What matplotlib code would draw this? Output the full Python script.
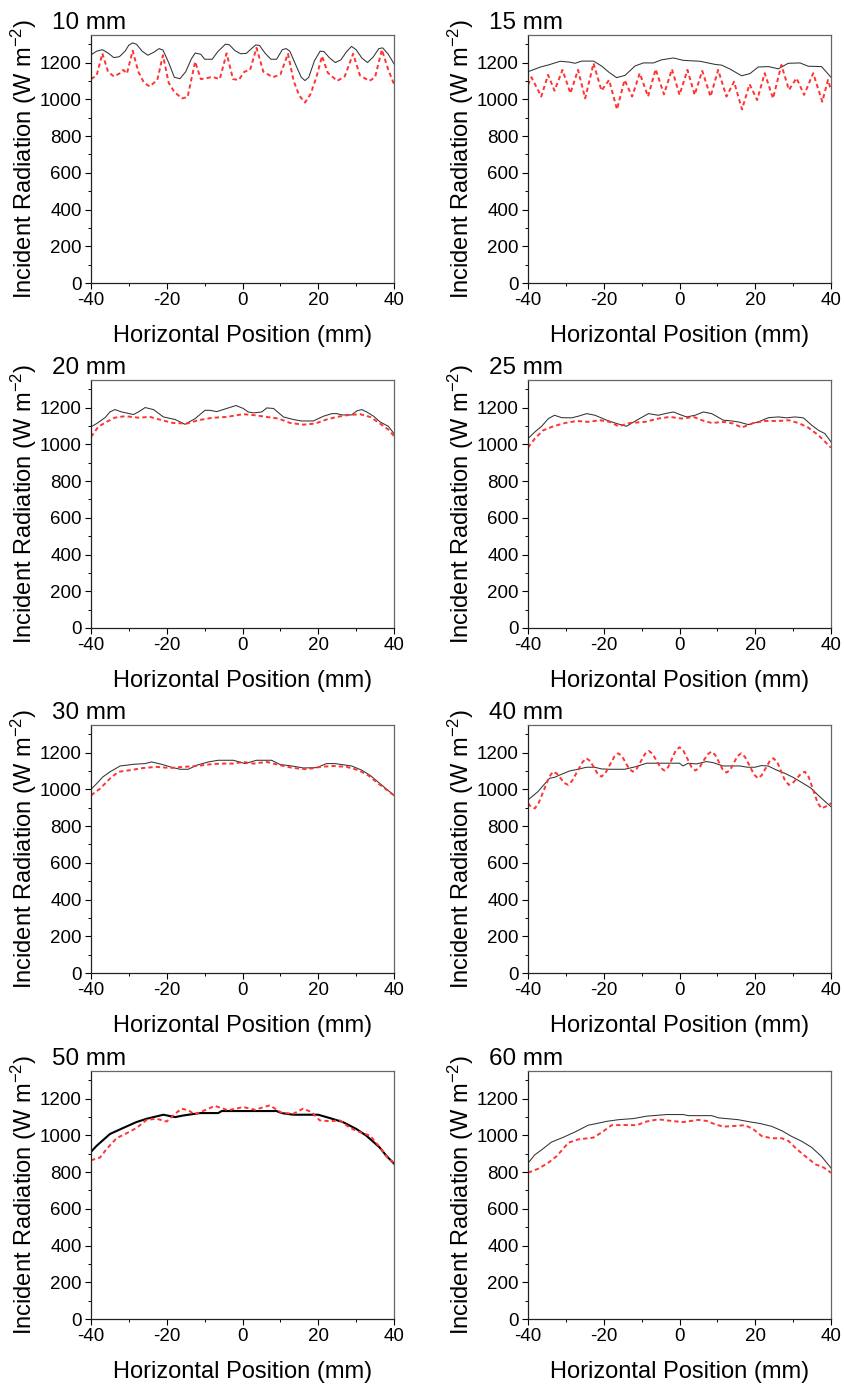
import matplotlib
matplotlib.use("Agg")
import matplotlib.pyplot as plt
from matplotlib.ticker import MultipleLocator

plt.rcParams['font.family'] = ['Liberation Sans', 'DejaVu Sans']
plt.rcParams['mathtext.fontset'] = 'custom'
plt.rcParams['mathtext.rm'] = 'Liberation Sans'
plt.rcParams['mathtext.default'] = 'regular'
plt.rcParams['axes.unicode_minus'] = False

# ---- data (x in mm, y in W m-2) ----
titles = ["10 mm", "15 mm", "20 mm", "25 mm", "30 mm", "40 mm", "50 mm", "60 mm"]

x10_solid = [-40, -38.5, -37, -35.5, -34, -32.5, -31, -30, -29, -28, -26.5, -25, -23.5, -22, -21,
             -19.5, -18, -16.5, -15, -13.5, -12.5, -11, -10, -8, -6.5, -4.5, -3.5, -2, -0.5, 1,
             2.5, 3.5, 4.5, 6, 7.5, 9, 10.5, 11.5, 12.5, 14, 15.5, 16.5, 17.5, 19, 20.5,
             21.5, 23, 24.5, 26, 27.5, 28.8, 30, 31.5, 33, 34.5, 36, 37, 38.5, 40]
y10_solid = [1242, 1262, 1270, 1252, 1227, 1232, 1262, 1295, 1307, 1300, 1262, 1240, 1255, 1276, 1268,
             1200, 1120, 1112, 1150, 1220, 1252, 1245, 1218, 1218, 1260, 1300, 1297, 1265, 1248, 1250,
             1278, 1296, 1293, 1250, 1218, 1218, 1270, 1276, 1262, 1190, 1120, 1102, 1120, 1210, 1262,
             1260, 1225, 1200, 1215, 1260, 1288, 1270, 1225, 1200, 1230, 1276, 1280, 1245, 1193]
x10_dash = [-40, -38.5, -37, -35.5, -34, -32.5, -31.5, -30.5, -29, -27.5, -26, -24.5, -22.5, -21, -19.5,
            -18, -16, -14.5, -12.5, -11, -9.5, -8, -6, -4.2, -2.5, -1, 0.5, 2, 3.7, 5.5,
            8, 10, 12, 13.5, 15, 16.5, 18, 19.5, 21, 22.5, 25, 27, 29.2, 31, 33.5, 35, 36.8, 38.5, 40]
y10_dash = [1110, 1130, 1250, 1150, 1125, 1140, 1160, 1140, 1265, 1150, 1090, 1070, 1105, 1240, 1090,
            1040, 1005, 1012, 1205, 1110, 1115, 1122, 1110, 1250, 1110, 1105, 1150, 1160, 1280, 1150,
            1120, 1135, 1248, 1100, 1020, 982, 1030, 1120, 1235, 1145, 1100, 1125, 1248, 1130, 1100,
            1120, 1270, 1160, 1082]

x15_solid = [-40, -36.8, -34.6, -31.5, -28.9, -27.6, -25.8, -22.7, -20.5, -18.5, -16.6, -14.4, -11.7,
             -9.5, -6.9, -4.7, -1.6, 1, 5.4, 9.4, 11.1, 13.3, 16.4, 18.6, 20.8, 23.5, 26.1, 28.7,
             31.8, 34, 37.5, 40]
y15_solid = [1150, 1175, 1187, 1207, 1202, 1196, 1208, 1208, 1180, 1145, 1118, 1130, 1182,
             1198, 1198, 1215, 1225, 1212, 1207, 1190, 1186, 1165, 1128, 1140, 1176, 1178, 1166, 1196,
             1198, 1180, 1178, 1120]
x15_dash = [-40, -39.1, -36.5, -34.7, -33, -30.9, -28.8, -26.8, -24.9, -22.7, -20.6, -18.6, -16.5, -14.5,
            -12.5, -10.5, -8.3, -6.3, -4.1, -2, 0, 2.1, 4, 6, 8.2, 10.2, 12.4, 14.4, 16.5, 18.5,
            20.5, 22.5, 24.7, 26.9, 28.9, 30.9, 32.9, 35.3, 37.7, 39.2, 40]
y15_dash = [1078, 1120, 1015, 1133, 1047, 1160, 1033, 1160, 1005, 1196, 1047, 1105, 945, 1105,
            1015, 1142, 1015, 1164, 1027, 1164, 1024, 1160, 1024, 1155, 1015, 1160, 1015, 1096, 945, 1082,
            996, 1142, 1005, 1187, 1051, 1115, 1024, 1142, 987, 1105, 1051]

x20_solid = [-40, -38.5, -36.3, -35, -33.7, -31.9, -28.8, -27.5, -25.7, -23.5, -20.9, -17.8, -15.2, -12.5,
             -9.9, -8.6, -6.8, -4.2, -1.7, 0.2, 1.5, 2.9, 5.1, 6.4, 8.2, 10.8, 13.4, 15.6, 18.7, 21.4,
             23.6, 24.9, 26.2, 28.8, 30.2, 31.5, 32.8, 34.6, 36.3, 38.5, 40]
y20_solid = [1095, 1113, 1145, 1176, 1189, 1176, 1162, 1176, 1200, 1189, 1149, 1135, 1109, 1140,
             1185, 1185, 1178, 1195, 1211, 1195, 1176, 1171, 1176, 1198, 1195, 1149, 1135, 1127, 1127, 1153,
             1167, 1167, 1160, 1160, 1182, 1189, 1176, 1153, 1122, 1098, 1058]
x20_dash = [-40, -38.1, -35.9, -33.7, -31, -27.5, -24.4, -21.3, -18.3, -14.7, -11.7, -8.1, -4.2, 0.2,
            3.3, 6.4, 9.5, 12.6, 16.1, 19.2, 22.2, 24.9, 27.5, 31, 33.7, 36.3, 38.5, 40]
y20_dash = [1040, 1095, 1122, 1145, 1153, 1145, 1149, 1131, 1116, 1113, 1131, 1144, 1149, 1164,
            1158, 1149, 1140, 1116, 1107, 1113, 1135, 1149, 1158, 1164, 1149, 1113, 1080, 1045]

x25_solid = [-40, -38.2, -36.4, -34.6, -33, -31.1, -28.5, -26.7, -24.5, -22.3, -19.2, -16.6, -14, -11.3,
             -8.2, -5.6, -3.8, -1.6, 0.6, 1.9, 4.1, 6.3, 8.5, 11.6, 13.8, 15.5, 18.2, 20.8, 23.5, 26.1,
             28.3, 30.5, 32.7, 34.9, 36.7, 38.4, 40]
y25_solid = [1031, 1067, 1098, 1140, 1158, 1145, 1144, 1153, 1167, 1158, 1131, 1113, 1098, 1131,
             1167, 1158, 1167, 1176, 1158, 1149, 1158, 1176, 1167, 1131, 1127, 1122, 1107, 1122, 1145, 1149,
             1144, 1149, 1144, 1104, 1076, 1058, 1013]
x25_dash = [-40, -38.2, -36, -33.3, -30.2, -27.1, -24.1, -21, -18.4, -16.1, -13.1, -9.1, -5.6, -2.5,
            0.6, 3.7, 5.9, 8.5, 11.6, 14.2, 16.4, 19.5, 22.6, 26.1, 28.8, 31.4, 34, 36.7, 40]
y25_dash = [982, 1031, 1076, 1098, 1116, 1127, 1122, 1131, 1122, 1098, 1116, 1122, 1140, 1149,
            1140, 1149, 1131, 1116, 1122, 1113, 1091, 1116, 1127, 1127, 1131, 1116, 1091, 1049, 982]

x30_solid = [-40, -38.5, -36.9, -35, -32.3, -28.8, -25.7, -24, -21.3, -19.1, -16.5, -14.3, -12.1, -9,
             -6.4, -2.4, 0.7, 3.7, 7.7, 9.9, 13, 16.1, 19.6, 22.2, 24.4, 28.8, 31.5, 33.7, 36.3, 40]
y30_solid = [1000, 1031, 1067, 1095, 1127, 1136, 1140, 1149, 1136, 1122, 1109, 1109, 1131, 1149,
             1158, 1158, 1140, 1158, 1158, 1135, 1127, 1116, 1118, 1140, 1140, 1127, 1104, 1076, 1031, 967]
x30_dash = [-40, -37.6, -35, -32.8, -29.7, -26.2, -22.7, -19.1, -15.6, -12.1, -9, -5.9, -2.4, 0.2,
            2.9, 6.4, 9.9, 13.4, 17, 20.5, 24, 27.5, 30.6, 33.2, 35.9, 40]
y30_dash = [967, 1004, 1058, 1095, 1104, 1116, 1122, 1116, 1122, 1127, 1135, 1140, 1140, 1149,
            1140, 1149, 1131, 1116, 1109, 1122, 1127, 1122, 1104, 1076, 1031, 967]

x40_solid = [-40, -37.4, -34.3, -33, -31.6, -29, -26.8, -24.6, -22.4, -20.6, -18.4, -14.5, -11.4, -8.7,
             -3.5, 0, 0.9, 2.3, 4.5, 7.1, 8.9, 11.5, 15.9, 18, 19.9, 21.6, 23.4, 25.6, 27.8, 30,
             32.6, 34.8, 37, 40]
y40_solid = [942, 987, 1060, 1065, 1078, 1100, 1109, 1120, 1120, 1111, 1109, 1109, 1124, 1142,
             1142, 1142, 1127, 1142, 1138, 1151, 1145, 1127, 1127, 1120, 1120, 1129, 1127, 1105, 1087, 1065,
             1033, 1005, 960, 905]
x40_dash = [-40, -39.2, -38.2, -37.2, -34.4, -33.4, -32.4, -30.4, -29.4, -28.4, -25.6, -24.6, -23.6,
            -21.6, -20.6, -19.6, -17.2, -16.2, -15.2, -13.3, -12.3, -11.3, -9.1, -8.1, -7.1,
            -5, -4, -3, -1, 0, 1, 3.2, 4.2, 5.2, 7.4, 8.4, 9.4, 11.4, 12.4, 13.4,
            15.3, 16.3, 17.3, 19.7, 20.7, 21.7, 23.8, 24.8, 25.8, 27.9, 28.9, 29.9,
            32.1, 33.1, 34.1, 36.5, 37.5, 38.5, 40]
y40_dash = [924, 905, 896, 925, 1067, 1096, 1086, 1034, 1024, 1045, 1148, 1169, 1154,
            1084, 1069, 1087, 1178, 1196, 1181, 1111, 1096, 1112, 1193, 1209, 1193,
            1118, 1102, 1120, 1211, 1229, 1211, 1120, 1102, 1117, 1190, 1205, 1188, 1108, 1091, 1106,
            1181, 1196, 1176, 1080, 1060, 1076, 1153, 1169, 1148, 1045, 1024, 1034,
            1086, 1096, 1067, 925, 896, 905, 924]

x50_solid = [-40, -38.5, -35, -31.5, -28, -25.3, -20.9, -17.8, -15.6, -11.2, -6.4, -5.5, 9, 10.3,
             13.4, 20, 23, 26.5, 30, 32.7, 36.2, 38, 40]
y50_solid = [910, 943, 1007, 1040, 1072, 1090, 1112, 1099, 1108, 1121, 1121, 1132, 1132, 1121,
             1112, 1112, 1094, 1072, 1035, 998, 934, 888, 846]
x50_dash = [-40, -37.6, -35.9, -33.2, -30.6, -28, -25.3, -22.7, -20, -18.3, -16.1, -14.3, -12.6, -10,
            -7.3, -3.8, 0.2, 3.3, 7.2, 10.3, 13.4, 16, 18.2, 20.4, 23, 25.7, 28.4, 31, 33.7, 36.3,
            38.4, 40]
y50_dash = [864, 879, 925, 985, 1011, 1040, 1084, 1090, 1075, 1108, 1145, 1136, 1114, 1136,
            1160, 1136, 1154, 1139, 1163, 1123, 1117, 1145, 1127, 1081, 1077, 1081, 1040, 1017, 998, 934,
            875, 851]

x60_solid = [-40, -38.2, -36.4, -33.8, -30.7, -27.6, -24.1, -21.9, -19.2, -16.1, -12.2, -8.7, -3.4, 1,
             2.3, 8.5, 10.3, 15.5, 18.6, 21.3, 24.3, 27, 29.6, 32.3, 34.9, 37.5, 40]
y60_solid = [848, 894, 921, 963, 989, 1018, 1055, 1064, 1076, 1085, 1091, 1104, 1113, 1113,
             1107, 1107, 1095, 1085, 1073, 1064, 1049, 1025, 994, 967, 934, 885, 822]
x60_dash = [-40, -37.3, -34.6, -32.4, -29.3, -26.7, -22.8, -20.6, -17.9, -14.4, -11.3, -8.7, -5.6, -2.1,
            1, 5, 7.2, 9.4, 11.6, 14.7, 17.3, 19.5, 21.7, 24.3, 27, 28.8, 31, 33.7, 35.9, 38.1, 40]
y60_dash = [796, 818, 851, 887, 960, 978, 987, 1015, 1055, 1056, 1055, 1075, 1087, 1078,
            1072, 1084, 1078, 1060, 1047, 1051, 1055, 1033, 996, 984, 984, 969, 924, 878, 842, 824, 796]

solid_x = [x10_solid, x15_solid, x20_solid, x25_solid, x30_solid, x40_solid, x50_solid, x60_solid]
solid_y = [y10_solid, y15_solid, y20_solid, y25_solid, y30_solid, y40_solid, y50_solid, y60_solid]
dash_x = [x10_dash, x15_dash, x20_dash, x25_dash, x30_dash, x40_dash, x50_dash, x60_dash]
dash_y = [y10_dash, y15_dash, y20_dash, y25_dash, y30_dash, y40_dash, y50_dash, y60_dash]

# ---- layout (pixels of the 844x1386 figure) ----
W, H = 844, 1386
lefts = [91, 528]
tops = [35, 380, 725, 1071]
aw, ah = 303, 248

fig = plt.figure(figsize=(W / 100, H / 100), dpi=100)

for i, title in enumerate(titles):
    r, c = divmod(i, 2)
    ax = fig.add_axes([lefts[c] / W, 1 - (tops[r] + ah) / H, aw / W, ah / H])

    if title == "50 mm":
        ax.plot(solid_x[i], solid_y[i], color='black', lw=1.5)
    else:
        ax.plot(solid_x[i], solid_y[i], color='#333333', lw=0.75)
    ax.plot(dash_x[i], dash_y[i], color='#ff3333', lw=1.4, dashes=(2.2, 1.6))

    ax.set_xlim(-40, 40)
    ax.set_ylim(0, 1350)
    ax.xaxis.set_major_locator(MultipleLocator(20))
    ax.xaxis.set_minor_locator(MultipleLocator(10))
    ax.yaxis.set_major_locator(MultipleLocator(200))
    ax.yaxis.set_minor_locator(MultipleLocator(100))
    ax.tick_params(which='major', direction='out', length=4, width=0.8, labelsize=13.5, pad=2.5)
    ax.tick_params(which='minor', direction='out', length=2.5, width=0.7)

    for side in ['left', 'bottom']:
        ax.spines[side].set_color('#222222')
        ax.spines[side].set_linewidth(0.9)
    for side in ['top', 'right']:
        ax.spines[side].set_color('#666666')
        ax.spines[side].set_linewidth(0.9)

    ax.set_xlabel('Horizontal Position (mm)', fontsize=17)
    ax.set_ylabel('Incident Radiation (W m$^{-2}$)', fontsize=17)
    ax.xaxis.set_label_coords(0.5, -0.17)
    ax.yaxis.set_label_coords(-0.173, 0.5)
    ax.text(-0.13, 1.025, title, transform=ax.transAxes, fontsize=17.5,
            ha='left', va='baseline')

fig.savefig('out.png', dpi=100)
plt.close(fig)
